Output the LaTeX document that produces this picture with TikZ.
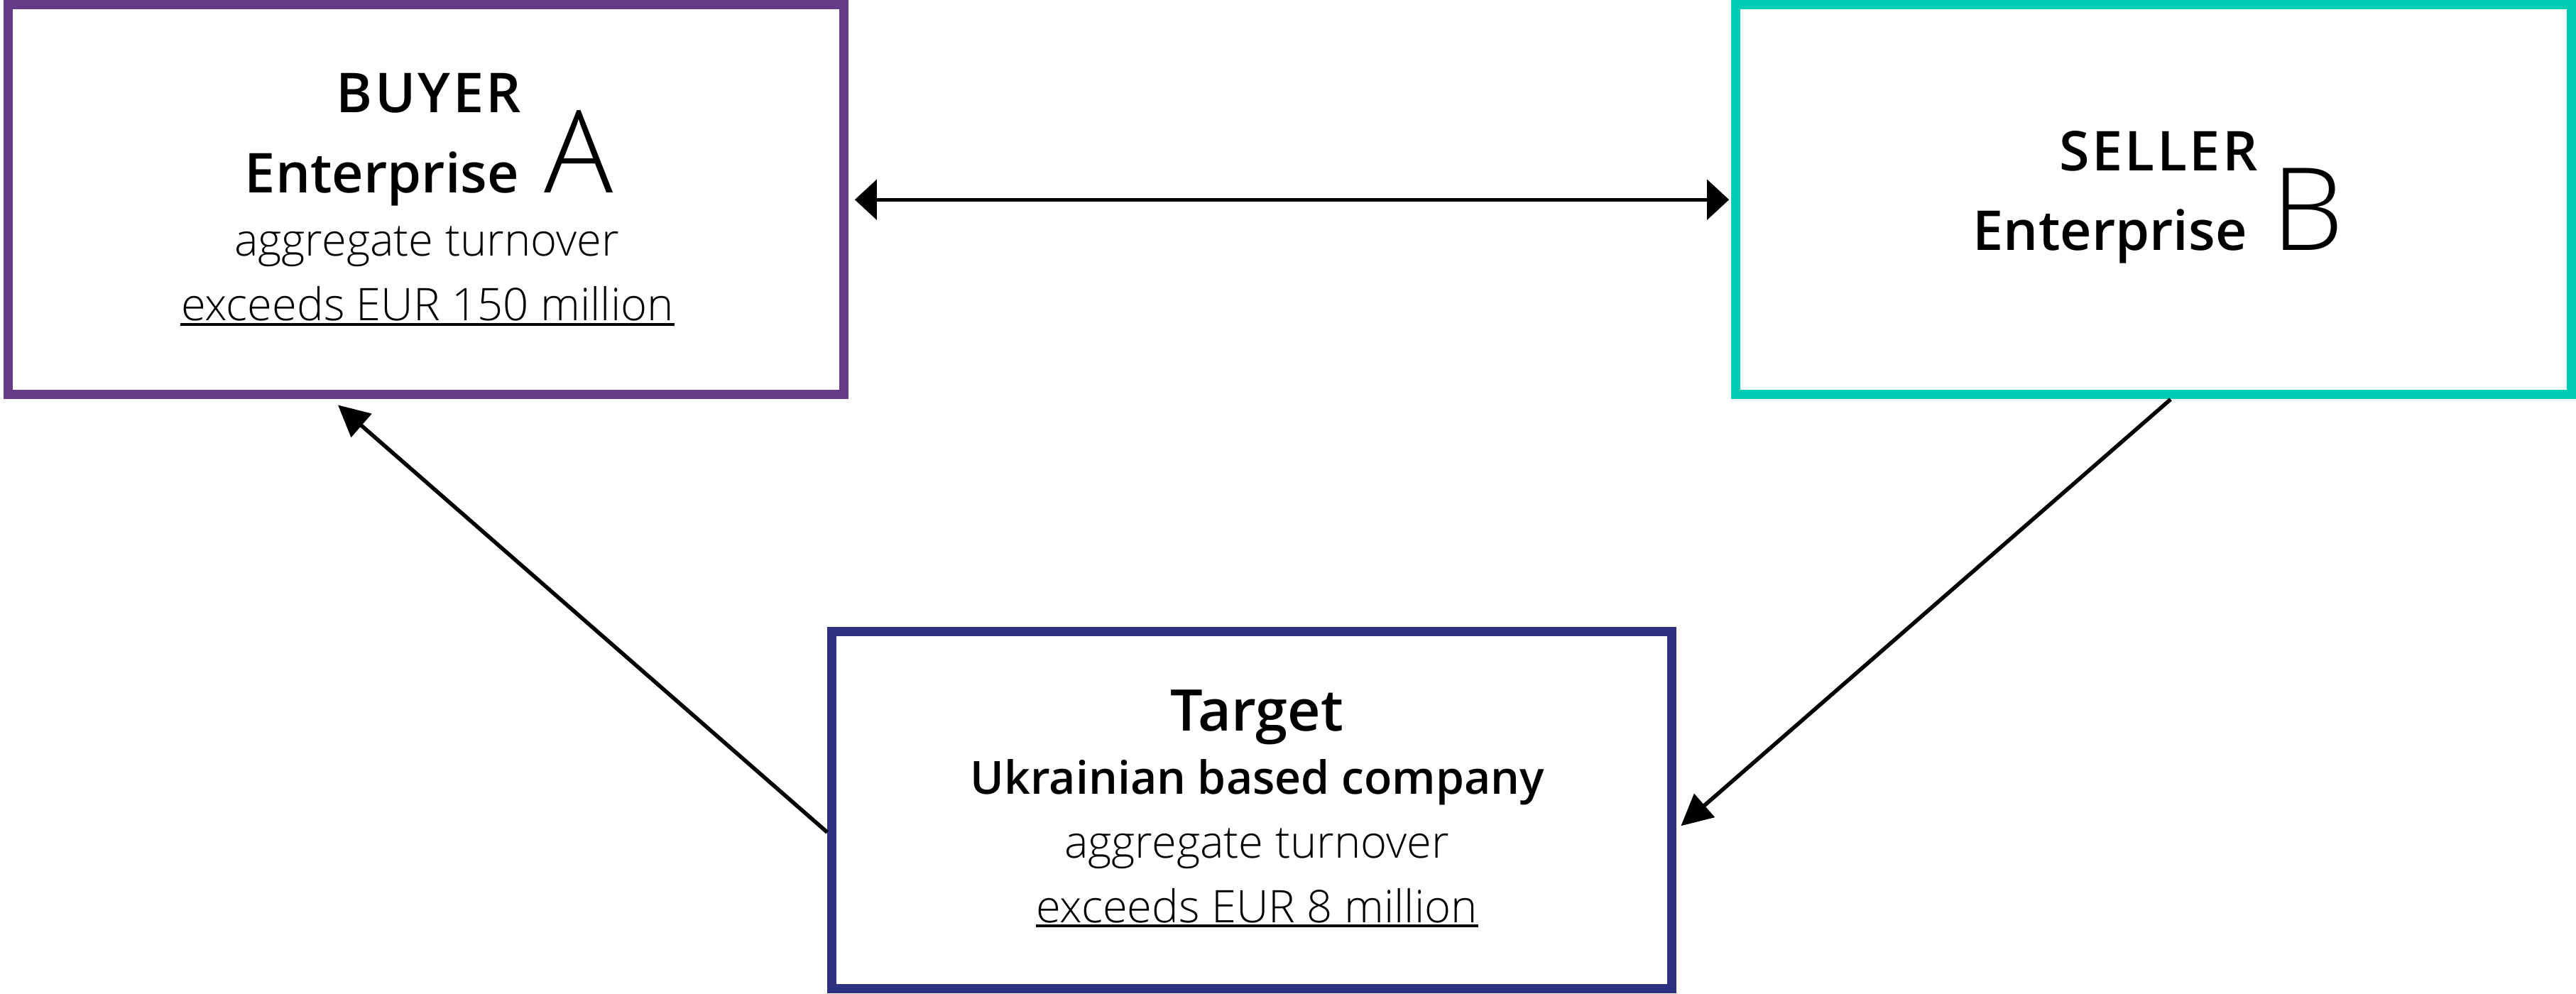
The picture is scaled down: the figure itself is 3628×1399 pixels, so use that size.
\documentclass[tikz,border=0pt]{standalone}
\usepackage{fontspec}
\setmainfont{Open Sans}
\usetikzlibrary{arrows.meta}

% lighter and semibold cuts where available, plain weights otherwise
\IfFontExistsTF{Open Sans Semibold}
  {\newfontfamily\semifont{Open Sans Semibold}}
  {\newcommand\semifont{\bfseries}}
\IfFontExistsTF{Open Sans Light}
  {\newfontfamily\thinfont{Open Sans Light}}
  {\newcommand\thinfont{\mdseries}}

\definecolor{buyerpurple}{RGB}{100,59,135}
\definecolor{sellerteal}{RGB}{0,205,180}
\definecolor{targetnavy}{RGB}{46,48,130}

\tikzset{
  bigtip/.tip={Triangle[length=0.44cm,width=0.43cm]},
  flattip/.tip={Triangle[length=0.31cm,width=0.56cm]}
}

\begin{document}
\begin{tikzpicture}[x=0.01cm,y=-0.01cm,
  partybox/.style={draw, rectangle, line width=0.13cm, inner sep=0pt, fill=white},
  txt/.style={inner sep=0pt, anchor=base, text=black},
  headfont/.style={font=\semifont\fontsize{22}{26}\selectfont},
  bodyfont/.style={font=\thinfont\fontsize{18}{21}\selectfont},
  link/.style={draw=black, line width=0.055cm},
  limitline/.style={line width=1.25pt}
]
\useasboundingbox (0,0) rectangle (3628,1399);

% the three parties
\node[partybox, draw=buyerpurple, minimum width=11.76cm, minimum height=5.49cm] (buyer) at (600,281.25) {};
\node[partybox, draw=sellerteal, minimum width=11.76cm, minimum height=5.49cm] (seller) at (3033,281.25) {};
\node[partybox, draw=targetnavy, minimum width=11.82cm, minimum height=5.025cm] (target) at (1763,1141.25) {};

% buyer texts
\node[txt, headfont] (buyerrole) at (604,158) {B\kern1ptU\kern1ptY\kern1ptE\kern1ptR};
\node[txt, headfont] (buyername) at (604,271) {Enterprise\hspace{10pt}{\thinfont\fontsize{46}{50}\selectfont A}};
\node[txt, bodyfont] (buyerturn) at (601,360) {aggregate turnover};
\node[txt, bodyfont] (buyerlimit) at (602,451) {exceeds EUR 150 million};
\draw[limitline] ([yshift=-0.06cm]buyerlimit.base west) -- ([yshift=-0.06cm]buyerlimit.base east);

% seller texts
\node[txt, headfont] (sellerrole) at (3040,240) {S\kern1ptE\kern1ptL\kern1ptL\kern1ptE\kern1ptR};
\node[txt, headfont] (sellername) at (3040,352) {Enterprise\hspace{10pt}{\thinfont\fontsize{46}{50}\selectfont B}};

% target texts
\node[txt, font=\semifont\fontsize{23}{27}\selectfont] (targettitle) at (1770,1029) {Target};
\node[txt, font=\semifont\fontsize{18.3}{22}\selectfont] (targetkind) at (1771,1118) {Ukrainian based company};
\node[txt, bodyfont] (targetturn) at (1770,1208) {aggregate turnover};
\node[txt, bodyfont] (targetlimit) at (1770,1299) {exceeds EUR 8 million};
\draw[limitline] ([yshift=-0.05cm]targetlimit.base west) -- ([yshift=-0.05cm]targetlimit.base east);

% connectors
\draw[link, flattip-flattip, shorten <=0.09cm, shorten >=0.03cm]
  (buyer.east) -- (seller.west |- buyer.east);
\draw[link, -bigtip]
  ([yshift=-0.31cm]target.west) -- ([xshift=-1.24cm,yshift=-0.08cm]buyer.south);
\draw[link, -bigtip]
  ([xshift=0.24cm]seller.south) -- ([xshift=0.065cm,yshift=-0.22cm]target.east);
\end{tikzpicture}
\end{document}
